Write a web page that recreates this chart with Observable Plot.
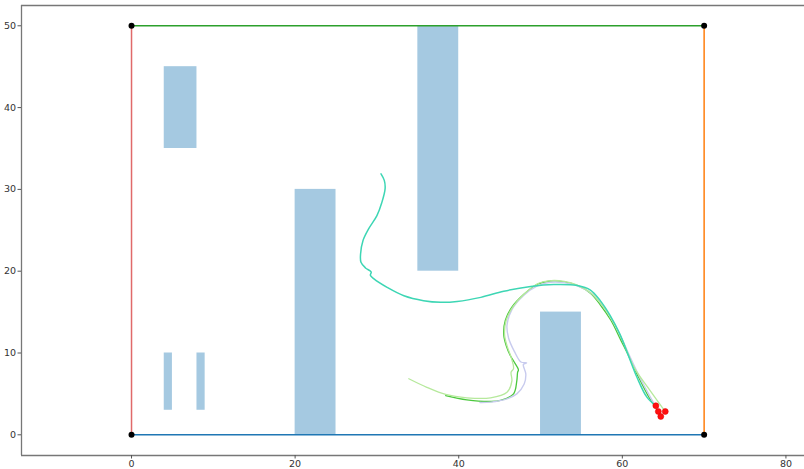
<!DOCTYPE html>
<html>
<head>
<meta charset="utf-8">
<script src="https://cdn.jsdelivr.net/npm/d3@7"></script>
<script src="https://cdn.jsdelivr.net/npm/@observablehq/plot@0.6"></script>
<style>
  html, body { margin: 0; padding: 0; background: #fff; }
  #chart { width: 804px; height: 469px; }
</style>
</head>
<body>
<div id="chart"></div>
<script>
// ---- data ----
const xDomain = [-13.45, 82.27];
const yDomain = [-2.53, 52.48];
const xTicks = [0, 20, 40, 60, 80];
const yTicks = [0, 10, 20, 30, 40, 50];

const obstacles = [
  {x1: 4, x2: 8, y1: 35, y2: 45},
  {x1: 4, x2: 5, y1: 3, y2: 10},
  {x1: 8, x2: 9, y1: 3, y2: 10},
  {x1: 20, x2: 25, y1: 0, y2: 30},
  {x1: 35, x2: 40, y1: 20, y2: 50},
  {x1: 50, x2: 55, y1: 0, y2: 15}
];

const boundaries = [
  {x1: 0, y1: 0, x2: 0, y2: 50, color: "#e06a6a"},
  {x1: 0, y1: 50, x2: 70, y2: 50, color: "#2ca02c"},
  {x1: 70, y1: 50, x2: 70, y2: 0, color: "#ff7f0e"},
  {x1: 0, y1: 0, x2: 70, y2: 0, color: "#1f77b4"}
];

const corners = [[0, 0], [70, 0], [0, 50], [70, 50]];

const tealPath = [
  [30.5,31.9],[30.9,31.1],[31.0,30.1],[30.6,28.4],[30.0,26.8],[29.0,25.2],[28.3,23.75],
  [28.0,22.1],[28.05,21.1],[28.6,20.4],[29.3,19.9],[29.2,19.5],[29.6,19.1],[31.3,18.0],
  [33.3,17.0],[35.7,16.4],[37.8,16.2],[39.8,16.3],[42.7,16.8],[45.5,17.55],[48.8,18.13],
  [51.6,18.37],[54.5,18.25],[56.1,17.7],[57.3,16.4],[58.5,14.6],[59.7,12.3],[60.7,9.8],
  [61.8,7.0],[63.0,4.6],[64.1,3.55]
];
const lightGreenPath = [
  [33.9,6.85],[36.1,5.8],[38.4,4.93],[41.0,4.52],[43.9,4.52],[45.9,5.2],[46.5,6.6],
  [46.4,7.65],[46.7,8.1],[46.4,9.5],[45.9,10.9],[45.6,12.3],[45.8,14.0],[46.6,15.6],
  [48.1,17.3],[49.7,18.5],[51.3,18.85],[52.9,18.75],[54.5,18.3],[56.1,17.4],[57.4,16.0],
  [58.7,14.1],[60.0,11.6],[61.4,8.3],[63.4,5.4],[65.2,2.9]
];
const lavenderPath = [
  [42.6,3.95],[43.9,4.0],[45.9,4.4],[47.1,5.0],[48.0,6.2],[48.2,7.45],[47.9,8.6],[48.3,8.8],
  [47.6,8.9],[46.8,10.2],[46.1,11.8],[45.9,13.4],[46.5,15.3],[47.9,17.0],[49.6,18.2],
  [51.2,18.65],[52.9,18.6],[54.5,18.2],[56.2,17.3],[57.5,15.9],[58.8,14.0],[60.0,11.6],
  [61.1,9.2],[62.3,6.7],[63.6,4.3],[64.7,2.3]
];
const greenPath = [
  [38.4,4.8],[41.0,4.28],[43.9,4.07],[45.1,4.2],[46.7,5.0],[47.1,6.6],[47.2,7.65],
  [47.3,7.95],[46.9,8.7],[46.3,9.7],[45.8,10.9],[45.5,12.3],[45.7,14.0],[46.5,15.6],
  [48.0,17.2],[49.6,18.4],[51.2,18.8],[52.9,18.7],[54.5,18.25],[56.1,17.3],[57.3,15.9],
  [58.6,14.0],[59.8,11.6],[60.8,9.6],[62.0,7.0],[63.3,4.5],[64.4,2.85]
];
const endpoints = [[64.1,3.55],[64.4,2.85],[64.7,2.24],[65.25,2.85]];

const paths = [
  {pts: greenPath, color: "#4cc83e", width: 1.3},
  {pts: lavenderPath, color: "#c8cbee", width: 1.4},
  {pts: lightGreenPath, color: "#b6e99c", width: 1.3},
  {pts: tealPath, color: "#3dd6b4", width: 1.5}
];

// ---- chart ----
const font = "DejaVu Sans, sans-serif";
const marks = [
  Plot.rect(obstacles, {x1: "x1", x2: "x2", y1: "y1", y2: "y2", fill: "#1f77b4", fillOpacity: 0.4}),
  ...paths.map(p => Plot.line(p.pts, {x: d => d[0], y: d => d[1], stroke: p.color, strokeWidth: p.width, curve: "catmull-rom"})),
  Plot.link(boundaries, {x1: "x1", y1: "y1", x2: "x2", y2: "y2", stroke: "color", strokeWidth: 1.5}),
  Plot.dot(corners, {x: d => d[0], y: d => d[1], r: 3, fill: "black"}),
  Plot.dot(endpoints, {x: d => d[0], y: d => d[1], r: 3, fill: "#ff1010", stroke: "#e00000", strokeWidth: 0.5}),
  Plot.ruleX([xDomain[0]], {stroke: "#777", strokeWidth: 1.3}),
  Plot.ruleY([yDomain[0]], {stroke: "#777", strokeWidth: 1.3}),
  Plot.ruleY([yDomain[1]], {stroke: "#777", strokeWidth: 1.3}),
  Plot.axisX(xTicks, {tickSize: 3.5, tickPadding: 1.5, fontSize: 9.5, stroke: "#555", fill: "#333", fontFamily: font}),
  Plot.axisY(yTicks, {tickSize: 3.5, tickPadding: 2, fontSize: 9.5, stroke: "#555", fill: "#333", fontFamily: font})
];

const chart = Plot.plot({
  width: 804,
  height: 469,
  marginLeft: 21,
  marginRight: 0,
  marginTop: 5,
  marginBottom: 14,
  x: {domain: xDomain, type: "linear"},
  y: {domain: yDomain, type: "linear"},
  style: {background: "white", fontFamily: font, overflow: "visible"},
  marks
});
document.getElementById("chart").appendChild(chart);
</script>
</body>
</html>
